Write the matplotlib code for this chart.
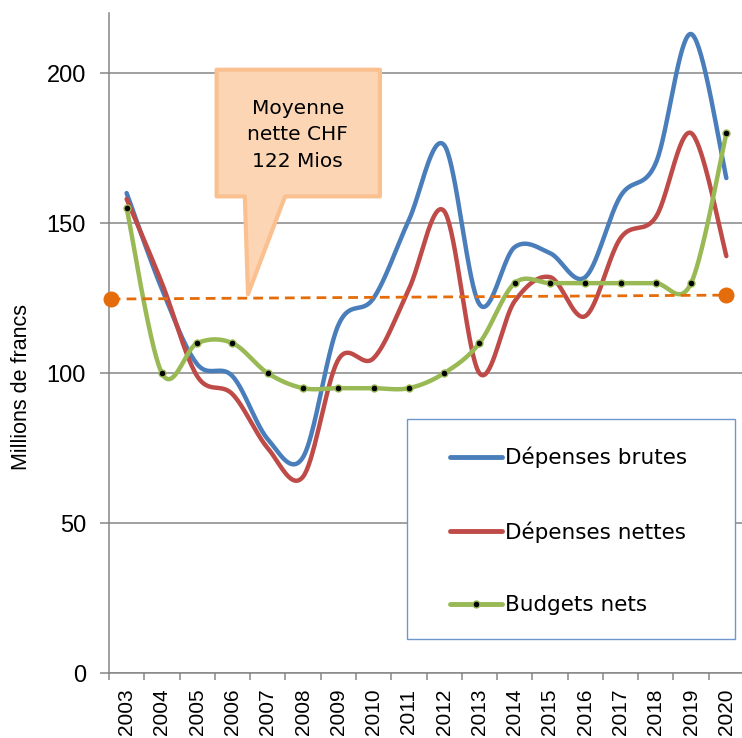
import numpy as np
import matplotlib
matplotlib.use("Agg")
import matplotlib.pyplot as plt
from matplotlib.patches import Polygon, Rectangle
from matplotlib.lines import Line2D

years = [str(y) for y in range(2003, 2021)]
depenses_brutes = [160, 128, 103, 99, 78, 72, 116, 125, 151, 176, 123, 142, 140, 132, 159, 170, 213, 165]
depenses_nettes = [158, 130, 99, 93, 75, 65.5, 104.5, 105, 128, 154, 100, 124, 132, 119, 145, 152, 180, 139]
budgets_nets = [155, 100, 110, 110, 100, 95, 95, 95, 95, 100, 110, 130, 130, 130, 130, 130, 130, 180]
moyenne_x = [-0.45, 17]
moyenne_y = [124.7, 126.0]
callout_text = "Moyenne\nnette CHF\n122 Mios"

blue = "#4A7EBB"
red = "#BE4B48"
green = "#98B954"
orange = "#E46C0A"
grey = "#868686"


def smooth(xs, ys, n=40):
    # excel-like smoothing: bezier segments, catmull-rom control points
    xs = np.asarray(xs, float)
    ys = np.asarray(ys, float)
    px = np.concatenate([[xs[0]], xs, [xs[-1]]])
    py = np.concatenate([[ys[0]], ys, [ys[-1]]])
    t = np.linspace(0, 1, n)
    ox, oy = [], []
    for i in range(1, len(px) - 2):
        p0 = np.array([px[i], py[i]])
        p3 = np.array([px[i + 1], py[i + 1]])
        c1 = p0 + (np.array([px[i + 1], py[i + 1]]) - np.array([px[i - 1], py[i - 1]])) / 6
        c2 = p3 - (np.array([px[i + 2], py[i + 2]]) - np.array([px[i], py[i]])) / 6
        b = ((1 - t) ** 3)[:, None] * p0 + (3 * (1 - t) ** 2 * t)[:, None] * c1 \
            + (3 * (1 - t) * t ** 2)[:, None] * c2 + (t ** 3)[:, None] * p3
        ox.extend(b[:, 0])
        oy.extend(b[:, 1])
    return np.array(ox), np.array(oy)


fig = plt.figure(figsize=(7.42, 7.38), dpi=100)
ax = fig.add_axes([109 / 742, 64.7 / 738, 635 / 742, 660.3 / 738])

x = np.arange(len(years))

ax.set_xlim(-0.5, len(years) - 0.5)
ax.set_ylim(0, 220)
ax.set_yticks([0, 50, 100, 150, 200])
ax.yaxis.grid(True, color=grey, lw=1.1)
ax.set_axisbelow(True)

for s in ["top", "right"]:
    ax.spines[s].set_visible(False)
for s in ["left", "bottom"]:
    ax.spines[s].set_color(grey)
    ax.spines[s].set_linewidth(1.1)

ax.set_xticks(x)
ax.set_xticklabels(years, rotation=90, fontsize=15, family="Liberation Sans")
ax.set_xticks(np.arange(-0.5, len(years)), minor=True)
ax.tick_params(axis="x", which="major", length=0, pad=11)
ax.tick_params(axis="x", which="minor", length=5, color=grey, width=1.1)
ax.tick_params(axis="y", length=6.5, color=grey, width=1.1, pad=10)
for lab in ax.get_yticklabels():
    lab.set_fontsize(17)
    lab.set_family("Liberation Sans")
ax.set_ylabel("Millions de francs", fontsize=15.5, family="Liberation Sans")
ax.yaxis.set_label_coords(-0.122, 0.434)

# series
sx, sy = smooth(x, depenses_brutes)
ax.plot(sx, sy, color=blue, lw=3.2, solid_capstyle="round", zorder=3)
sx, sy = smooth(x, depenses_nettes)
ax.plot(sx, sy, color=red, lw=3.2, solid_capstyle="round", zorder=3)
sx, sy = smooth(x, budgets_nets)
ax.plot(sx, sy, color=green, lw=3.2, solid_capstyle="round", zorder=4)
ax.plot(x, budgets_nets, ls="none", marker="o", ms=5, mfc="black", mec=green, mew=1, zorder=5)

# trend line
ax.plot(moyenne_x, moyenne_y, color=orange, lw=2, ls=(0, (3.5, 2.2)), zorder=6, clip_on=False)
ax.plot(moyenne_x, moyenne_y, ls="none", marker="o", ms=10.5, color=orange, zorder=7, clip_on=False)

# callout
callout = Polygon([(2.55, 201.1), (7.18, 201.1), (7.18, 158.9), (4.49, 158.9), (3.44, 126.3),
                   (3.35, 158.9), (2.55, 158.9)], closed=True, facecolor="#FCD5B5",
                  edgecolor="#FAC090", lw=3, joinstyle="round", zorder=8)
ax.add_patch(callout)
ax.text(4.85, 179.5, callout_text, ha="center", va="center", fontsize=14.5, linespacing=1.5,
        family="DejaVu Sans", zorder=9)

# legend with its own frame
frame = Rectangle((0.469, 0.052), 0.517, 0.333, transform=ax.transAxes, facecolor="white",
                  edgecolor="#6F97CC", lw=1, zorder=10)
ax.add_patch(frame)
handles = [Line2D([], [], color=blue, lw=3.5, solid_capstyle="round"),
           Line2D([], [], color=red, lw=3.5, solid_capstyle="round"),
           Line2D([], [], color=green, lw=3.5, solid_capstyle="round", marker="o", ms=5,
                  mfc="black", mec=green)]
leg = ax.legend(handles, ["Dépenses brutes", "Dépenses nettes", "Budgets nets"],
                loc="upper left", bbox_to_anchor=(0.537, 0.343), frameon=False,
                borderpad=0, borderaxespad=0, labelspacing=2.45, handlelength=2.4,
                handletextpad=0.15, prop={"family": "DejaVu Sans", "size": 15.5})
leg.set_zorder(11)

fig.savefig("out.png", dpi=100)
